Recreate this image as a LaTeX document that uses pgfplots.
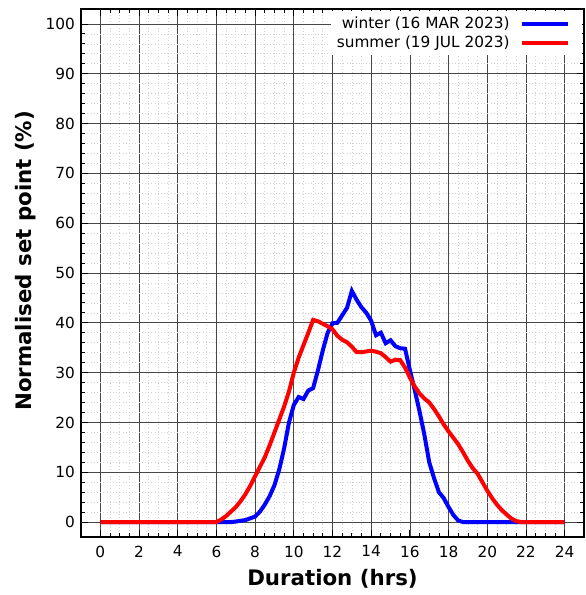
\documentclass[border=0pt]{standalone}
\usepackage{pgfplots}
\pgfplotsset{compat=1.18}
\usepackage{fontspec}
\setmainfont{DejaVu Sans}
\begin{document}
\begin{tikzpicture}[x=1pt,y=1pt]
\begin{axis}[
  at={(0,0)}, anchor=south west,
  scale only axis,
  width=377.25pt, height=396pt,
  xmin=-1, xmax=25, ymin=-3, ymax=103,
  xtick={0,2,...,24}, ytick={0,10,...,100},
  minor x tick num=3, minor y tick num=4,
  grid=both,
  major grid style={black!72, line width=0.5pt},
  minor grid style={gray!35, dotted, line width=0.5pt},
  tick align=inside,
  xtick pos=both, ytick pos=both,
  major tick length=5pt, minor tick length=3pt,
  tick style={black, line width=0.6pt},
  axis line style={black, line width=0.8pt},
  /pgf/number format/assume math mode=true,
  tick label style={font=\fontsize{11.5}{14}\selectfont},
  xticklabel style={yshift=-3pt},
  yticklabel style={xshift=-1pt},
  xlabel={Duration (hrs)},
  ylabel={Normalised set point (\%)},
  label style={font=\fontsize{16}{19}\selectfont\bfseries},
  xlabel style={at={(axis description cs:0.5,-0.079)}, anchor=center},
  ylabel style={at={(axis description cs:-0.11,0.523)}, anchor=center, rotate=0},
  legend style={at={(axis description cs:0.997,0.996)}, anchor=north east,
    draw=none, fill=white, font=\fontsize{11.5}{14}\selectfont,
    row sep=0pt, inner sep=2pt},
  legend cell align=right,
  legend plot pos=right,
  legend image code/.code={\path[draw=none,fill=none] (-7.5pt,0pt) -- (43pt,0pt);\draw[#1] (0pt,0pt) -- (34.5pt,0pt);},
]
\addplot[blue, line width=3pt] coordinates {
(0,0) (6.75,0) (7.0,0.1) (7.5,0.4) (8.0,1.1) (8.25,2.1) (8.5,3.5) (8.75,5.2)
(9.0,7.4) (9.25,10.6) (9.5,14.8) (9.75,20.0) (10.0,23.5) (10.25,25.1) (10.5,24.7)
(10.75,26.4) (11.0,26.9) (11.25,30.5) (11.5,34.5) (11.75,38.0) (12.0,39.9)
(12.25,40.0) (12.5,41.5) (12.75,43.0) (13.0,46.4) (13.25,44.6) (13.5,43.1)
(13.75,42.0) (14.0,40.4) (14.25,37.5) (14.5,38.0) (14.75,35.9) (15.0,36.5)
(15.25,35.3) (15.5,34.9) (15.75,34.8) (16.0,30.5) (16.25,26.5) (16.5,22.2)
(16.75,17.5) (17.0,12.0) (17.25,8.8) (17.5,6.0) (17.75,4.8) (18.0,3.0)
(18.25,1.4) (18.5,0.3) (18.75,0) (24,0)
};
\addlegendentry{winter (16 MAR 2023)}
\addplot[red, line width=3pt] coordinates {
(0,0) (6.0,0) (6.25,0.5) (6.5,1.2) (6.75,2.1) (7.0,3.0) (7.25,4.2) (7.5,5.6)
(7.75,7.3) (8.0,9.2) (8.25,11.1) (8.5,13.0) (8.75,15.4) (9.0,18.0) (9.25,20.6)
(9.5,23.2) (9.75,26.2) (10.0,30.0) (10.25,33.0) (10.5,35.5) (10.75,38.0)
(11.0,40.6) (11.25,40.3) (11.5,39.8) (11.75,39.3) (12.0,38.7) (12.25,37.4)
(12.5,36.6) (12.75,36.1) (13.0,35.2) (13.25,34.1) (13.5,34.1) (14.0,34.4)
(14.25,34.2) (14.5,33.9) (14.75,33.1) (15.0,32.2) (15.25,32.6) (15.5,32.5)
(15.75,31.0) (16.0,29.0) (16.25,27.2) (16.5,25.8) (16.75,24.8) (17.0,24.0)
(17.25,22.7) (17.5,21.2) (17.75,19.6) (18.0,18.2) (18.25,16.9) (18.5,15.6)
(18.75,14.0) (19.0,12.3) (19.25,10.8) (19.5,9.7) (19.75,8.0) (20.0,6.3)
(20.25,4.8) (20.5,3.5) (20.75,2.4) (21.0,1.5) (21.25,0.7) (21.5,0.2)
(21.75,0) (24,0)
};
\addlegendentry{summer (19 JUL 2023)}
\end{axis}
\pgfresetboundingbox
\path (-60.75pt,-43.5pt) rectangle (378pt,402.75pt);
\end{tikzpicture}
\end{document}
